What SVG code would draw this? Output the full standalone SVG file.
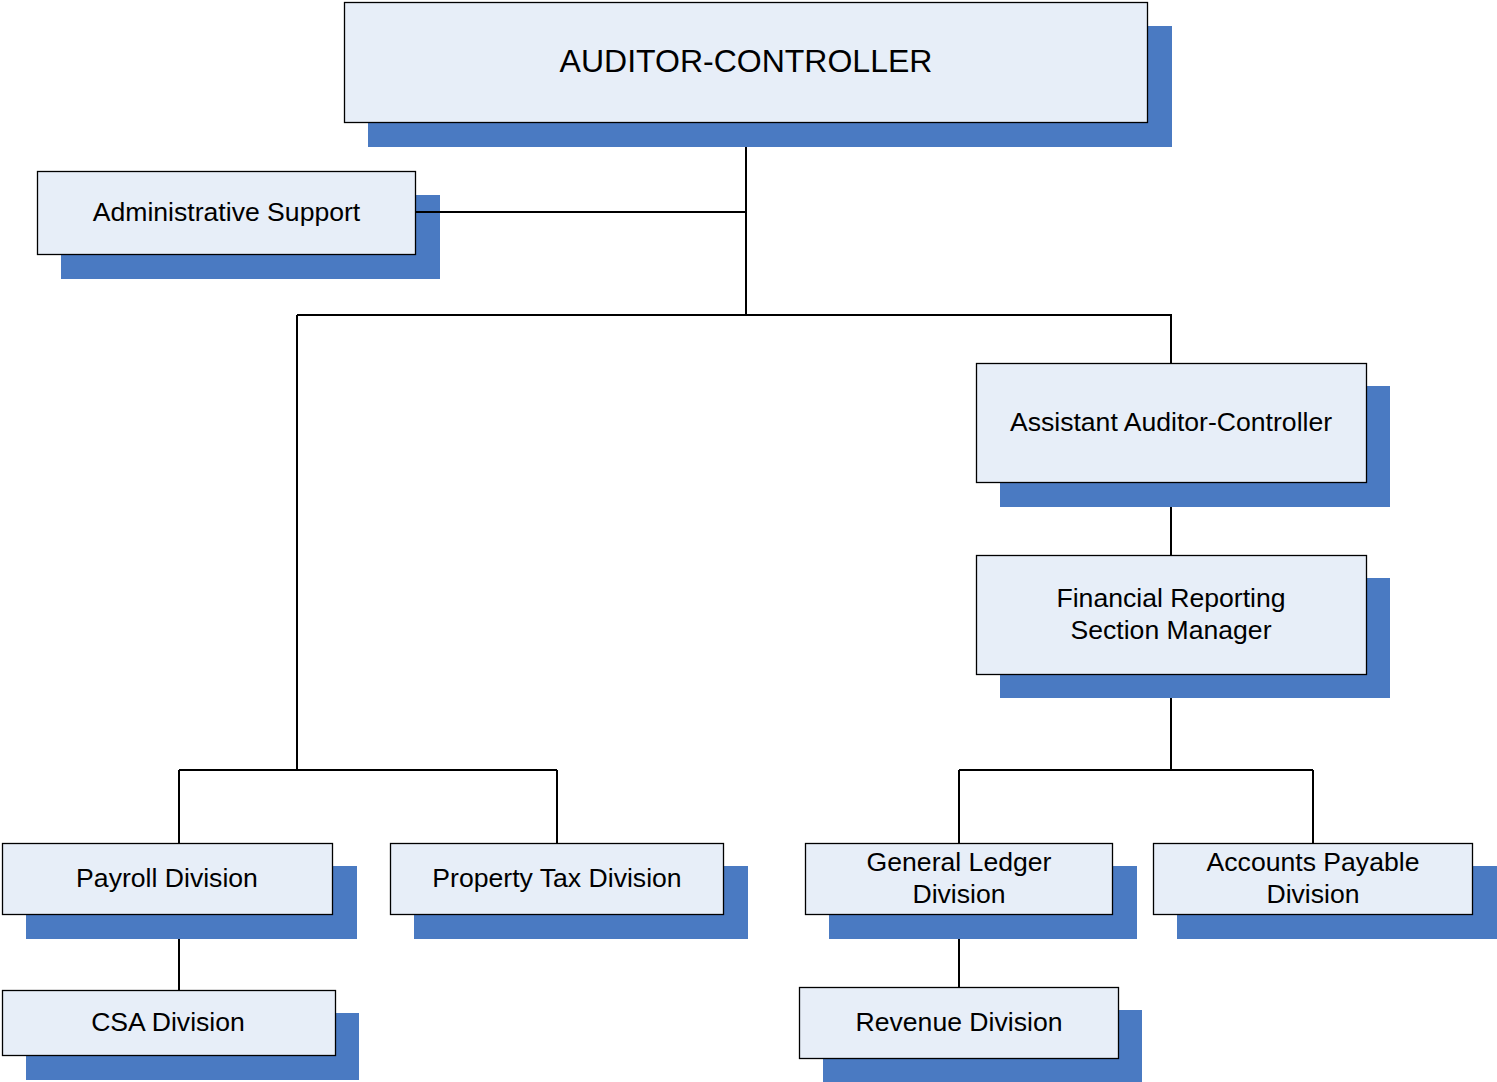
<svg xmlns="http://www.w3.org/2000/svg" width="1497" height="1082" viewBox="0 0 1497 1082">
<style>
.sh{fill:#4A7AC2}
.bx{fill:#E7EEF8;stroke:#000;stroke-width:1.3}
.t{font-family:"Liberation Sans",Arial,sans-serif;font-size:26.6px;fill:#000;text-anchor:middle}
.c{fill:none;stroke:#000;stroke-width:2}
</style>
<rect width="1497" height="1082" fill="#fff"/>
<g id="auditor-controller"><rect class="sh" x="368" y="26" width="804" height="121"/><rect class="bx" x="344.5" y="2.5" width="803" height="120"/><text class="t" x="746" y="72" style="font-size:32px">AUDITOR-CONTROLLER</text></g>
<g id="admin-support"><rect class="sh" x="61" y="195" width="379" height="84"/><rect class="bx" x="37.5" y="171.5" width="378" height="83"/><text class="t" x="226.5" y="221">Administrative Support</text></g>
<g id="assistant"><rect class="sh" x="1000" y="386" width="390" height="121"/><rect class="bx" x="976.5" y="363.5" width="390" height="119"/><text class="t" x="1171" y="431">Assistant Auditor-Controller</text></g>
<g id="frsm"><rect class="sh" x="1000" y="578" width="390" height="120"/><rect class="bx" x="976.5" y="555.5" width="390" height="119"/><text class="t" x="1171" y="607">Financial Reporting</text><text class="t" x="1171" y="639">Section Manager</text></g>
<g id="payroll"><rect class="sh" x="26" y="866" width="331" height="73"/><rect class="bx" x="2.5" y="843.5" width="330" height="71"/><text class="t" x="167" y="887">Payroll Division</text></g>
<g id="csa"><rect class="sh" x="26" y="1013" width="333" height="67"/><rect class="bx" x="2.5" y="990.5" width="333" height="65"/><text class="t" x="168" y="1031">CSA Division</text></g>
<g id="property-tax"><rect class="sh" x="414" y="866" width="334" height="73"/><rect class="bx" x="390.5" y="843.5" width="333" height="71"/><text class="t" x="557" y="887">Property Tax Division</text></g>
<g id="general-ledger"><rect class="sh" x="829" y="866" width="308" height="73"/><rect class="bx" x="805.5" y="843.5" width="307" height="71"/><text class="t" x="959" y="871">General Ledger</text><text class="t" x="959" y="903">Division</text></g>
<g id="revenue"><rect class="sh" x="823" y="1010" width="319" height="72"/><rect class="bx" x="799.5" y="987.5" width="319" height="71"/><text class="t" x="959" y="1031">Revenue Division</text></g>
<g id="accounts-payable"><rect class="sh" x="1177" y="866" width="320" height="73"/><rect class="bx" x="1153.5" y="843.5" width="319" height="71"/><text class="t" x="1313" y="871">Accounts Payable</text><text class="t" x="1313" y="903">Division</text></g>
<g id="connectors">
<path class="c" d="M746,147V315M415,212H746M297,315H1171V363M297,315V770M179,770H557M179,770V843M557,770V843M1171,507V555M1171,698V770M959,770H1313M959,770V843M1313,770V843M179,939V990M959,939V987"/>
</g>
</svg>
